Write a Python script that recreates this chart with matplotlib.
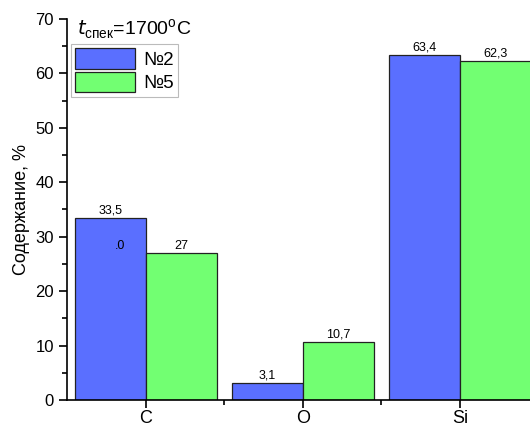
import matplotlib
matplotlib.use("Agg")
import matplotlib.pyplot as plt
import numpy as np
from matplotlib.ticker import MultipleLocator, FixedLocator

categories = ["C", "O", "Si"]
series_names = ["№2", "№5"]
values_2 = [33.5, 3.1, 63.4]
values_5 = [27.0, 10.7, 62.3]
labels_2 = ["33,5", "3,1", "63,4"]
labels_5 = ["27", "10,7", "62,3"]

plt.rcParams['font.family'] = ['Liberation Sans', 'DejaVu Sans']

fig = plt.figure(figsize=(5.3, 4.3), dpi=100)
ax = fig.add_axes([0.1264, 0.0698, 0.8736, 0.886])

x = np.arange(len(categories))
w = 0.452
c_blue = "#5a6fff"
c_green = "#72ff72"
b1 = ax.bar(x - w/2, values_2, w, color=c_blue, edgecolor="#222222", linewidth=0.9, label=series_names[0])
b2 = ax.bar(x + w/2, values_5, w, color=c_green, edgecolor="#222222", linewidth=0.9, label=series_names[1])
ax.bar_label(b1, labels=labels_2, padding=1, fontsize=9)
ax.bar_label(b2, labels=labels_5, padding=1, fontsize=9)
ax.text(-0.165, 28.3, ".0", fontsize=9, ha="center", va="center")

ax.set_xlim(-0.503, 2.446)
ax.set_ylim(0, 70)
ax.set_xticks(x)
ax.set_xticklabels(categories, fontsize=13)
ax.xaxis.set_minor_locator(FixedLocator([0.5, 1.5]))
ax.yaxis.set_major_locator(MultipleLocator(10))
ax.yaxis.set_minor_locator(MultipleLocator(5))
ax.tick_params(axis="both", which="major", length=6, width=1.2, labelsize=12)
ax.tick_params(axis="both", which="minor", length=3.5, width=1.2)
ax.tick_params(axis="x", labelsize=13, pad=1.5)
for s in ["top", "right"]:
    ax.spines[s].set_visible(False)
for s in ["left", "bottom"]:
    ax.spines[s].set_linewidth(1.2)
ax.set_ylabel("Содержание, %", fontsize=13, labelpad=4)

ax.text(0.022, 0.975, r"$\mathit{t}_{\mathregular{спек}}$=1700$^{\mathregular{o}}$C",
        transform=ax.transAxes, fontsize=14, va="center", ha="left")

leg = ax.legend(loc="upper left", bbox_to_anchor=(0.008, 0.935), fontsize=13.5,
                handlelength=3.2, handleheight=1.3, handletextpad=0.4,
                borderpad=0.25, labelspacing=0.15, frameon=True, fancybox=False,
                edgecolor="#aaaaaa", borderaxespad=0)
leg.get_frame().set_linewidth(0.8)

fig.savefig("out.png", dpi=100)
